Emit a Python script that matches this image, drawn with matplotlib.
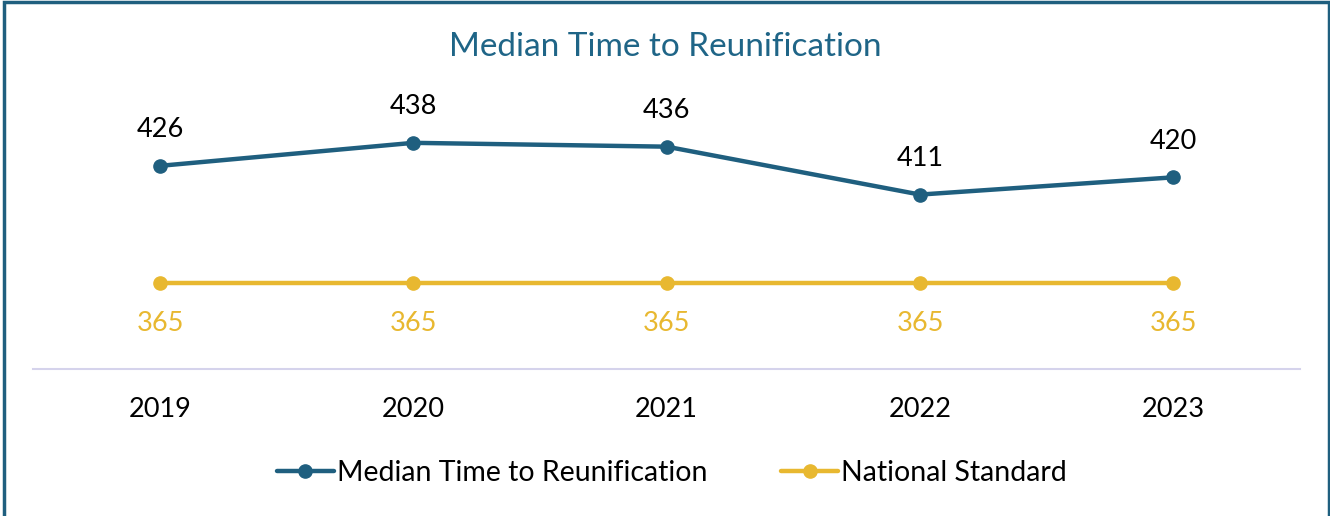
import matplotlib.pyplot as plt

years = ["2019", "2020", "2021", "2022", "2023"]
median_days = [426, 438, 436, 411, 420]
national_standard = [365, 365, 365, 365, 365]

blue = "#1F5F7F"
gold = "#E8B830"

plt.rcParams['font.family'] = ['Lato', 'DejaVu Sans']

fig = plt.figure(figsize=(13.3, 5.16), dpi=100)
ax = fig.add_axes([0.0251, 0.2849, 0.9523, 0.52])

x = list(range(len(years)))
ax.plot(x, median_days, color=blue, lw=3.2, marker="o", ms=9.5,
        label="Median Time to Reunification", solid_capstyle="round")
ax.plot(x, national_standard, color=gold, lw=3.2, marker="o", ms=9.5,
        label="National Standard", solid_capstyle="round")

for i, v in enumerate(median_days):
    ax.annotate(str(v), (i, v), xytext=(0, 26), textcoords="offset points",
                ha="center", va="center", fontsize=19.5, color="black")
for i, v in enumerate(national_standard):
    ax.annotate(str(v), (i, v), xytext=(0, -29), textcoords="offset points",
                ha="center", va="center", fontsize=19.5, color=gold)

ax.set_xlim(-0.5, len(years) - 0.5)
ax.set_ylim(320, 460)
ax.set_xticks(x)
ax.set_xticklabels(years, fontsize=19.5)
ax.tick_params(axis="x", length=0, pad=20)
ax.set_yticks([])
for s in ["top", "right", "left"]:
    ax.spines[s].set_visible(False)
ax.spines["bottom"].set_color("#D5D3EC")
ax.spines["bottom"].set_linewidth(1.5)

fig.text(0.5, 0.908, "Median Time to Reunification", ha="center", va="center",
         fontsize=24, color="#1F6587")

fig.legend(loc="center", bbox_to_anchor=(0.505, 0.083), ncol=2, frameon=False,
           fontsize=20.5, handlelength=2.0, handletextpad=0.1, columnspacing=2.6)

# border like the original box
border = plt.Rectangle((0.003, -0.01), 0.996, 1.006, transform=fig.transFigure,
                       fill=False, edgecolor=blue, lw=2.5)
fig.patches.append(border)

fig.savefig("out.png", dpi=100)
